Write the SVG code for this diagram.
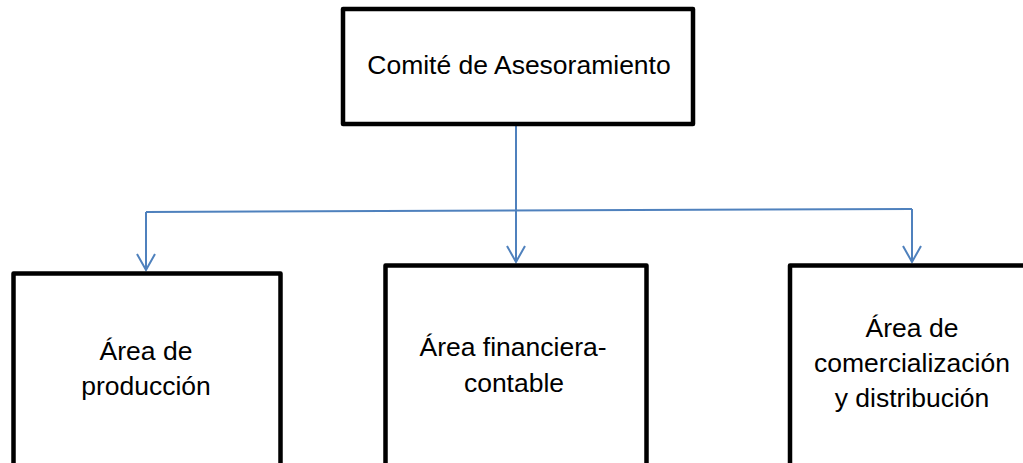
<svg xmlns="http://www.w3.org/2000/svg" width="1023" height="463" viewBox="0 0 1023 463">
<defs>
<style>
.box{fill:#fff;stroke:#000;stroke-width:4.5;stroke-linejoin:round}
.lbl{font-family:"Liberation Sans",Arial,sans-serif;font-size:26.5px;fill:#000;text-anchor:middle}
.con{fill:none;stroke:#4F81BD;stroke-width:2}
</style>
<marker id="arr" markerWidth="22" markerHeight="20" refX="10" refY="17" orient="0" markerUnits="userSpaceOnUse" viewBox="0 0 22 20">
<path d="M1,1 L10,17 L19,1" fill="none" stroke="#4F81BD" stroke-width="2"/>
</marker>
</defs>
<rect width="1023" height="463" fill="#fff"/>
<g id="connectors">
<line class="con" x1="516" y1="126" x2="516" y2="262" marker-end="url(#arr)"/>
<line class="con" x1="146" y1="212" x2="912" y2="209"/>
<line class="con" x1="146" y1="212" x2="146" y2="270" marker-end="url(#arr)"/>
<line class="con" x1="912" y1="209" x2="912" y2="262" marker-end="url(#arr)"/>
</g>
<g id="comite">
<rect class="box" x="343" y="9" width="350" height="115"/>
<text class="lbl" x="519" y="74">Comité de Asesoramiento</text>
</g>
<g id="produccion">
<rect class="box" x="13.5" y="273.5" width="267" height="220"/>
<text class="lbl" x="146" y="360">Área de</text>
<text class="lbl" x="146" y="395">producción</text>
</g>
<g id="financiera">
<rect class="box" x="385.5" y="265.5" width="261" height="220"/>
<text class="lbl" x="513" y="356">Área financiera-</text>
<text class="lbl" x="514" y="392">contable</text>
</g>
<g id="comercializacion">
<rect class="box" x="790" y="265.5" width="260" height="220"/>
<text class="lbl" x="912" y="337">Área de</text>
<text class="lbl" x="912" y="372">comercialización</text>
<text class="lbl" x="912" y="407">y distribución</text>
</g>
</svg>
